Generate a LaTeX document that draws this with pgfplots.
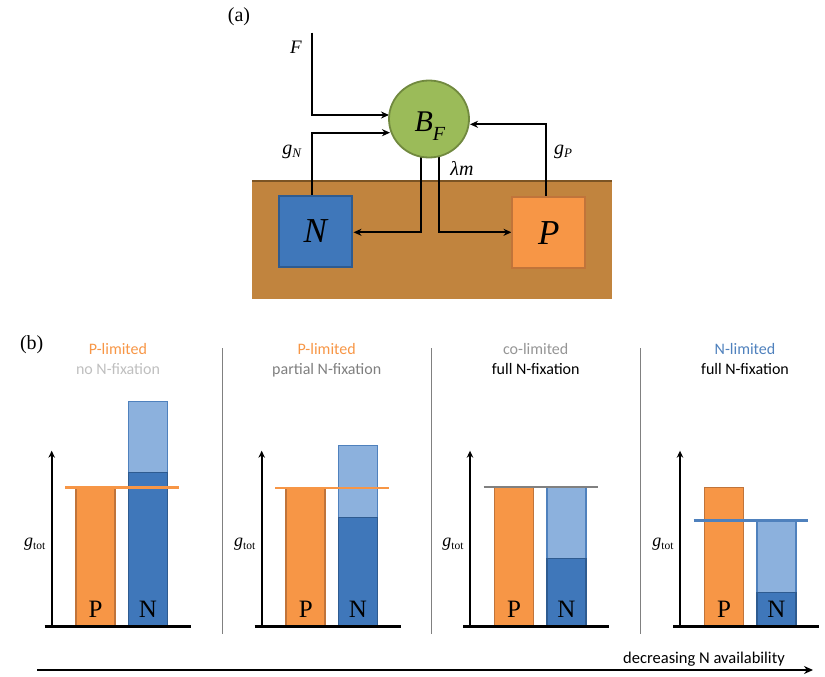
\documentclass[border=0pt]{standalone}
\usepackage{pgfplots}
\pgfplotsset{compat=1.18}
\usepackage{fontspec}
\setmainfont{Liberation Serif}
\newfontfamily\calibri{Carlito}
\usetikzlibrary{arrows.meta}
\definecolor{soil}{HTML}{C1843E}
\definecolor{soiledge}{HTML}{7B5424}
\definecolor{bgreen}{HTML}{9BBB59}
\definecolor{bgreenedge}{HTML}{71893F}
\definecolor{nblue}{HTML}{3F77BA}
\definecolor{nblueedge}{HTML}{2E5B90}
\definecolor{porange}{HTML}{F79646}
\definecolor{porangeedge}{HTML}{C0743A}
\definecolor{nlight}{HTML}{8CB1DD}
\definecolor{nlightedge}{HTML}{4F81BD}
\definecolor{sep}{HTML}{808080}
\definecolor{ltgray}{HTML}{BFBFBF}
\definecolor{mdgray}{HTML}{7F7F7F}
\definecolor{cogray}{HTML}{959595}
\definecolor{lineblue}{HTML}{4F81BD}
\newcommand{\fs}[1]{\fontsize{#1bp}{#1bp}\selectfont}
\tikzset{arr/.style={line width=2.2bp,-{Stealth[length=8bp,width=7bp]}}}
% panel: #1 left x (bp), #2 P, #3 N dark, #4 N total, #5 g_tot level, #6 line colour
\newcommand{\panel}[6]{%
\begin{axis}[at={(#1bp,50.3bp)},anchor=south west,scale only axis,
  width=146bp,height=230bp,xmin=-7,xmax=139,ymin=0,ymax=230,
  hide axis,clip=false]
\addplot[ybar,bar width=39,bar shift=0pt,fill=porange,draw=porangeedge,line width=1.6bp] coordinates {(44,#2)};
\addplot[ybar,bar width=39,bar shift=0pt,fill=nlight,draw=nlightedge,line width=1.6bp] coordinates {(96.3,#4)};
\addplot[ybar,bar width=39,bar shift=0pt,fill=nblue,draw=nblueedge,line width=1.6bp] coordinates {(96.3,#3)};
\addplot[#6,line width=2.4bp,no markers] coordinates {(13.5,#5) (127.5,#5)};
\draw[line width=2.4bp] (-7,0) -- (139,0);
\draw[line width=1.8bp,-{Stealth[length=7bp,width=6.5bp]}] (0,0) -- (0,176);
\node[anchor=base] at (44,9.4) {\fs{25}P};
\node[anchor=base] at (96.3,9.4) {\fs{25}N};
\node[anchor=base] at (-17,80) {\fs{18}\textit{g}\raisebox{-0.3ex}{\fs{11.5}tot}};
\end{axis}}
\begin{document}
\begin{tikzpicture}
\useasboundingbox (0,0) rectangle (825bp,677bp);
\begin{axis}[at={(0,0)},anchor=south west,scale only axis,width=825bp,height=677bp,
  xmin=0,xmax=825,ymin=0,ymax=677,y dir=reverse,hide axis,clip=false]
% (a) diagram
\fill[soil] (252.3,181) rectangle (611.7,299.3);
\draw[soiledge,line width=2bp] (252.3,181) -- (611.7,181);
\draw[arr] (312.3,32.7) |- (389,115);
\draw[arr] (312.3,195.7) |- (390,132.7);
\draw[arr] (545.7,196.7) |- (470,124.3);
\draw[arr] (421,150) |- (353.5,232.3);
\draw[arr] (439,150) |- (511.5,232.3);
\filldraw[fill=bgreen,draw=bgreenedge,line width=1.8bp] (429,119) ellipse [x radius=40bp,y radius=38.5bp];
\filldraw[fill=nblue,draw=nblueedge,line width=1.8bp] (279,195.7) rectangle (352.3,266.7);
\filldraw[fill=porange,draw=porangeedge,line width=1.8bp] (512.3,196.7) rectangle (585,267.7);
\node[anchor=base] at (430,131) {\fs{30}\textit{B}\raisebox{-9bp}{\fs{20}\textit{F}}};
\node[anchor=base] at (316,242.5) {\fs{35}\textit{N}};
\node[anchor=base] at (548.7,244.5) {\fs{35}\textit{P}};
\node at (296,47) {\fs{19}\textit{F}};
\node at (292,152) {\fs{20}\textit{g}\raisebox{-0.35ex}{\fs{13}\textit{N}}};
\node at (563,152) {\fs{20}\textit{g}\raisebox{-0.35ex}{\fs{13}\textit{P}}};
\node at (462,168) {\fs{20}\textit{λm}};
\node[anchor=base] at (239,22) {\fs{20}(a)};
\node[anchor=base] at (31.7,349) {\fs{20}(b)};
% (b) titles
\node[anchor=base] at (118,354.5) {\calibri\fs{16}\color{porange}P-limited};
\node[anchor=base] at (118,374.5) {\calibri\fs{16}\color{ltgray}no N-fixation};
\node[anchor=base] at (326.7,354.5) {\calibri\fs{16}\color{porange}P-limited};
\node[anchor=base] at (326.7,374.5) {\calibri\fs{16}\color{mdgray}partial N-fixation};
\node[anchor=base] at (535.7,354.5) {\calibri\fs{16}\color{cogray}co-limited};
\node[anchor=base] at (535.7,374.5) {\calibri\fs{16}full N-fixation};
\node[anchor=base] at (745,354.5) {\calibri\fs{16}\color{lineblue}N-limited};
\node[anchor=base] at (745,374.5) {\calibri\fs{16}full N-fixation};
\draw[sep,line width=1.5bp] (222.5,348) -- (222.5,634);
\draw[sep,line width=1.5bp] (431.7,348) -- (431.7,634);
\draw[sep,line width=1.5bp] (640.7,348) -- (640.7,634);
\draw[line width=2.2bp,-{Stealth[length=9bp,width=8bp]}] (37,670) -- (813,670);
\node[anchor=base] at (704,663) {\calibri\fs{16.5}decreasing N availability};
\end{axis}
\panel{44.7}{139}{154}{225}{139}{porange}
\panel{254.7}{138}{109}{181}{138.5}{porange}
\panel{463}{139}{68}{139}{139.5}{sep}
\panel{673}{139}{34}{106}{106}{lineblue}
\end{tikzpicture}
\end{document}
